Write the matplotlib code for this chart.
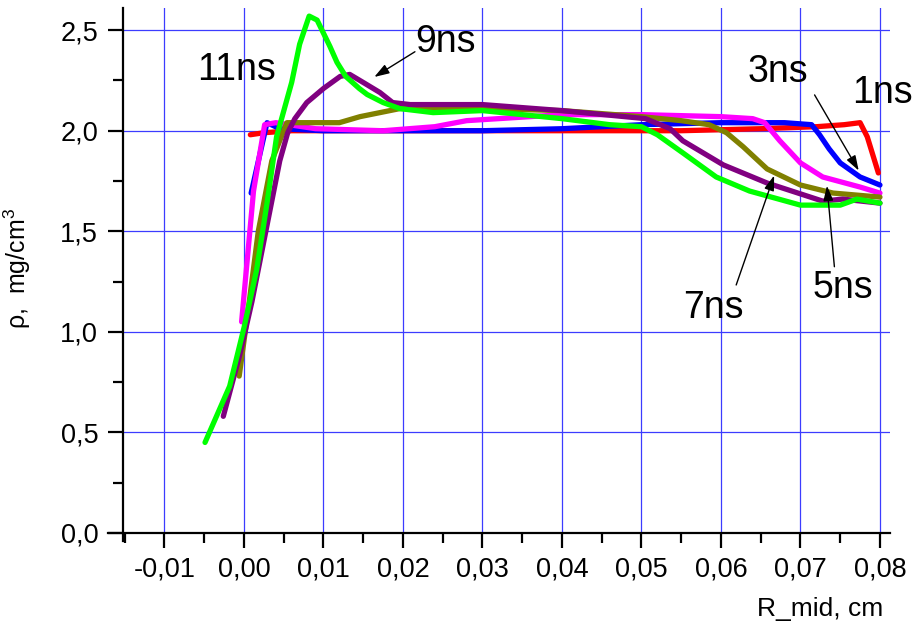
import numpy as np
import matplotlib
matplotlib.use('Agg')
import matplotlib.pyplot as plt
from matplotlib.ticker import MultipleLocator, FuncFormatter

plt.rcParams['font.family'] = ['Liberation Sans', 'DejaVu Sans']
plt.rcParams['mathtext.fontset'] = 'custom'
plt.rcParams['mathtext.rm'] = 'Liberation Sans'

# density profiles rho(R_mid) at different times
red_x = [0.0008, 0.0025, 0.006, 0.015, 0.03, 0.045, 0.055, 0.065, 0.072, 0.0755, 0.0775, 0.0784, 0.0798]
red_y = [1.98, 1.99, 2.00, 2.00, 2.00, 2.00, 2.00, 2.01, 2.02, 2.03, 2.04, 1.97, 1.79]

blue_x = [0.0009, 0.0029, 0.0045, 0.01, 0.02, 0.03, 0.04, 0.045, 0.05, 0.06, 0.068, 0.0714,
          0.0724, 0.0736, 0.075, 0.0775, 0.08]
blue_y = [1.69, 2.04, 2.01, 2.00, 2.00, 2.00, 2.01, 2.02, 2.03, 2.04, 2.04, 2.03,
          1.98, 1.91, 1.84, 1.77, 1.73]

magenta_x = [-0.0003, 0.0012, 0.0026, 0.004, 0.009, 0.0175, 0.024, 0.028, 0.032, 0.04, 0.05,
             0.06, 0.064, 0.0655, 0.0674, 0.07, 0.0728, 0.0775, 0.08]
magenta_y = [1.05, 1.70, 2.03, 2.04, 2.01, 2.00, 2.02, 2.05, 2.06, 2.08, 2.08,
             2.07, 2.06, 2.04, 1.95, 1.84, 1.77, 1.72, 1.69]

olive_x = [-0.0006, 0.0005, 0.0018, 0.0035, 0.0054, 0.008, 0.012, 0.0146, 0.0171, 0.0196, 0.025,
           0.03, 0.04, 0.05, 0.055, 0.0585, 0.0607, 0.0628, 0.0658, 0.07, 0.0741, 0.08]
olive_y = [0.78, 1.10, 1.50, 1.85, 2.04, 2.04, 2.04, 2.07, 2.09, 2.11, 2.11,
           2.11, 2.10, 2.07, 2.05, 2.03, 1.99, 1.92, 1.81, 1.73, 1.69, 1.67]

purple_x = [-0.0026, -0.0005, 0.001, 0.003, 0.0045, 0.0055, 0.0064, 0.0079, 0.01, 0.0121, 0.0133,
            0.015, 0.0171, 0.0187, 0.0209, 0.025, 0.03, 0.04, 0.0505, 0.0536, 0.0552, 0.0603,
            0.0658, 0.0728, 0.0753, 0.08]
purple_y = [0.58, 0.89, 1.15, 1.55, 1.85, 1.99, 2.06, 2.14, 2.21, 2.27, 2.28,
            2.24, 2.19, 2.14, 2.13, 2.13, 2.13, 2.10, 2.06, 2.01, 1.95, 1.83,
            1.74, 1.65, 1.66, 1.64]

green_x = [-0.0049, -0.0018, 0.0, 0.0016, 0.0029, 0.0041, 0.006, 0.007, 0.0082, 0.0092, 0.0108,
           0.0117, 0.0128, 0.0145, 0.0155, 0.0175, 0.0196, 0.0238, 0.03, 0.035, 0.04, 0.046,
           0.05, 0.052, 0.0552, 0.0594, 0.0636, 0.07, 0.075, 0.0771, 0.08]
green_y = [0.45, 0.73, 1.02, 1.31, 1.64, 1.97, 2.24, 2.43, 2.57, 2.55, 2.42,
           2.34, 2.27, 2.21, 2.18, 2.14, 2.11, 2.09, 2.10, 2.08, 2.06, 2.03,
           2.02, 1.98, 1.89, 1.77, 1.70, 1.63, 1.63, 1.66, 1.64]

series = [
    (red_x, red_y, '#ff0000'),
    (blue_x, blue_y, '#0000ff'),
    (magenta_x, magenta_y, '#ff00ff'),
    (olive_x, olive_y, '#808000'),
    (purple_x, purple_y, '#800080'),
    (green_x, green_y, '#00ff00'),
]

fig = plt.figure(figsize=(9.14, 6.23), dpi=100)
ax = fig.add_axes([0.1182, 0.1316, 0.855, 0.8555])

for xs, ys, col in series:
    ax.plot(xs, ys, color=col, lw=3.8, solid_capstyle='round', solid_joinstyle='round', zorder=3)

ax.set_xlim(-0.0171, 0.0812)
ax.set_ylim(-0.04, 2.61)
ax.spines['bottom'].set_position(('data', 0))
ax.spines['left'].set_position(('data', -0.0152))
ax.spines['top'].set_visible(False)
ax.spines['right'].set_visible(False)
ax.spines['bottom'].set_linewidth(1.6)
ax.spines['left'].set_linewidth(1.6)

ax.xaxis.set_major_locator(MultipleLocator(0.01))
ax.xaxis.set_minor_locator(MultipleLocator(0.005))
ax.yaxis.set_major_locator(MultipleLocator(0.5))
ax.yaxis.set_minor_locator(MultipleLocator(0.25))
ax.set_xticks([t for t in np.arange(-0.01, 0.0801, 0.01)])
ax.set_yticks([0.0, 0.5, 1.0, 1.5, 2.0, 2.5])
ax.xaxis.set_major_formatter(FuncFormatter(lambda v, p: ('%.2f' % v).replace('.', ',').replace('-0,00', '0,00')))
ax.yaxis.set_major_formatter(FuncFormatter(lambda v, p: ('%.1f' % v).replace('.', ',')))
ax.tick_params(which='major', direction='out', length=11, width=1.6, labelsize=19.5)
ax.tick_params(axis='x', which='major', pad=6)
ax.tick_params(axis='y', which='major', pad=7)
ax.tick_params(which='minor', direction='out', length=7, width=1.6)

# blue grid like the original
for gx in np.arange(-0.01, 0.0801, 0.01):
    ax.plot([gx, gx], [0, 2.61], color='#3c3cff', lw=0.9, zorder=1)
for gy in [0.5, 1.0, 1.5, 2.0, 2.5]:
    ax.plot([-0.0152, 0.0812], [gy, gy], color='#3c3cff', lw=0.9, zorder=1)

ax.set_ylabel('ρ,  mg/cm$^3$', fontsize=18)
ax.yaxis.set_label_coords(-0.096, 0.512)
fig.text(0.966, 0.0225, 'R_mid, cm', fontsize=19, ha='right', va='center')

lab = dict(fontsize=27, ha='center', va='center', zorder=5)
ax.text(-0.0009, 2.30, '11ns', **lab)
ax.text(0.0253, 2.44, '9ns', **lab)
ax.text(0.0672, 2.29, '3ns', **lab)
ax.text(0.0803, 2.19, '1ns', **lab)
ax.text(0.0590, 1.12, '7ns', **lab)
ax.text(0.0753, 1.22, '5ns', **lab)

arr = dict(arrowstyle='-|>,head_length=0.9,head_width=0.3', color='black', lw=1.0)
ax.annotate('', xy=(0.0161, 2.26), xytext=(0.0218, 2.40), arrowprops=arr, zorder=6)
ax.annotate('', xy=(0.0775, 1.79), xytext=(0.0716, 2.19), arrowprops=arr, zorder=6)
ax.annotate('', xy=(0.0668, 1.79), xytext=(0.0618, 1.22), arrowprops=arr, zorder=6)
ax.annotate('', xy=(0.0733, 1.74), xytext=(0.0743, 1.31), arrowprops=arr, zorder=6)

fig.savefig('out.png', dpi=100)
